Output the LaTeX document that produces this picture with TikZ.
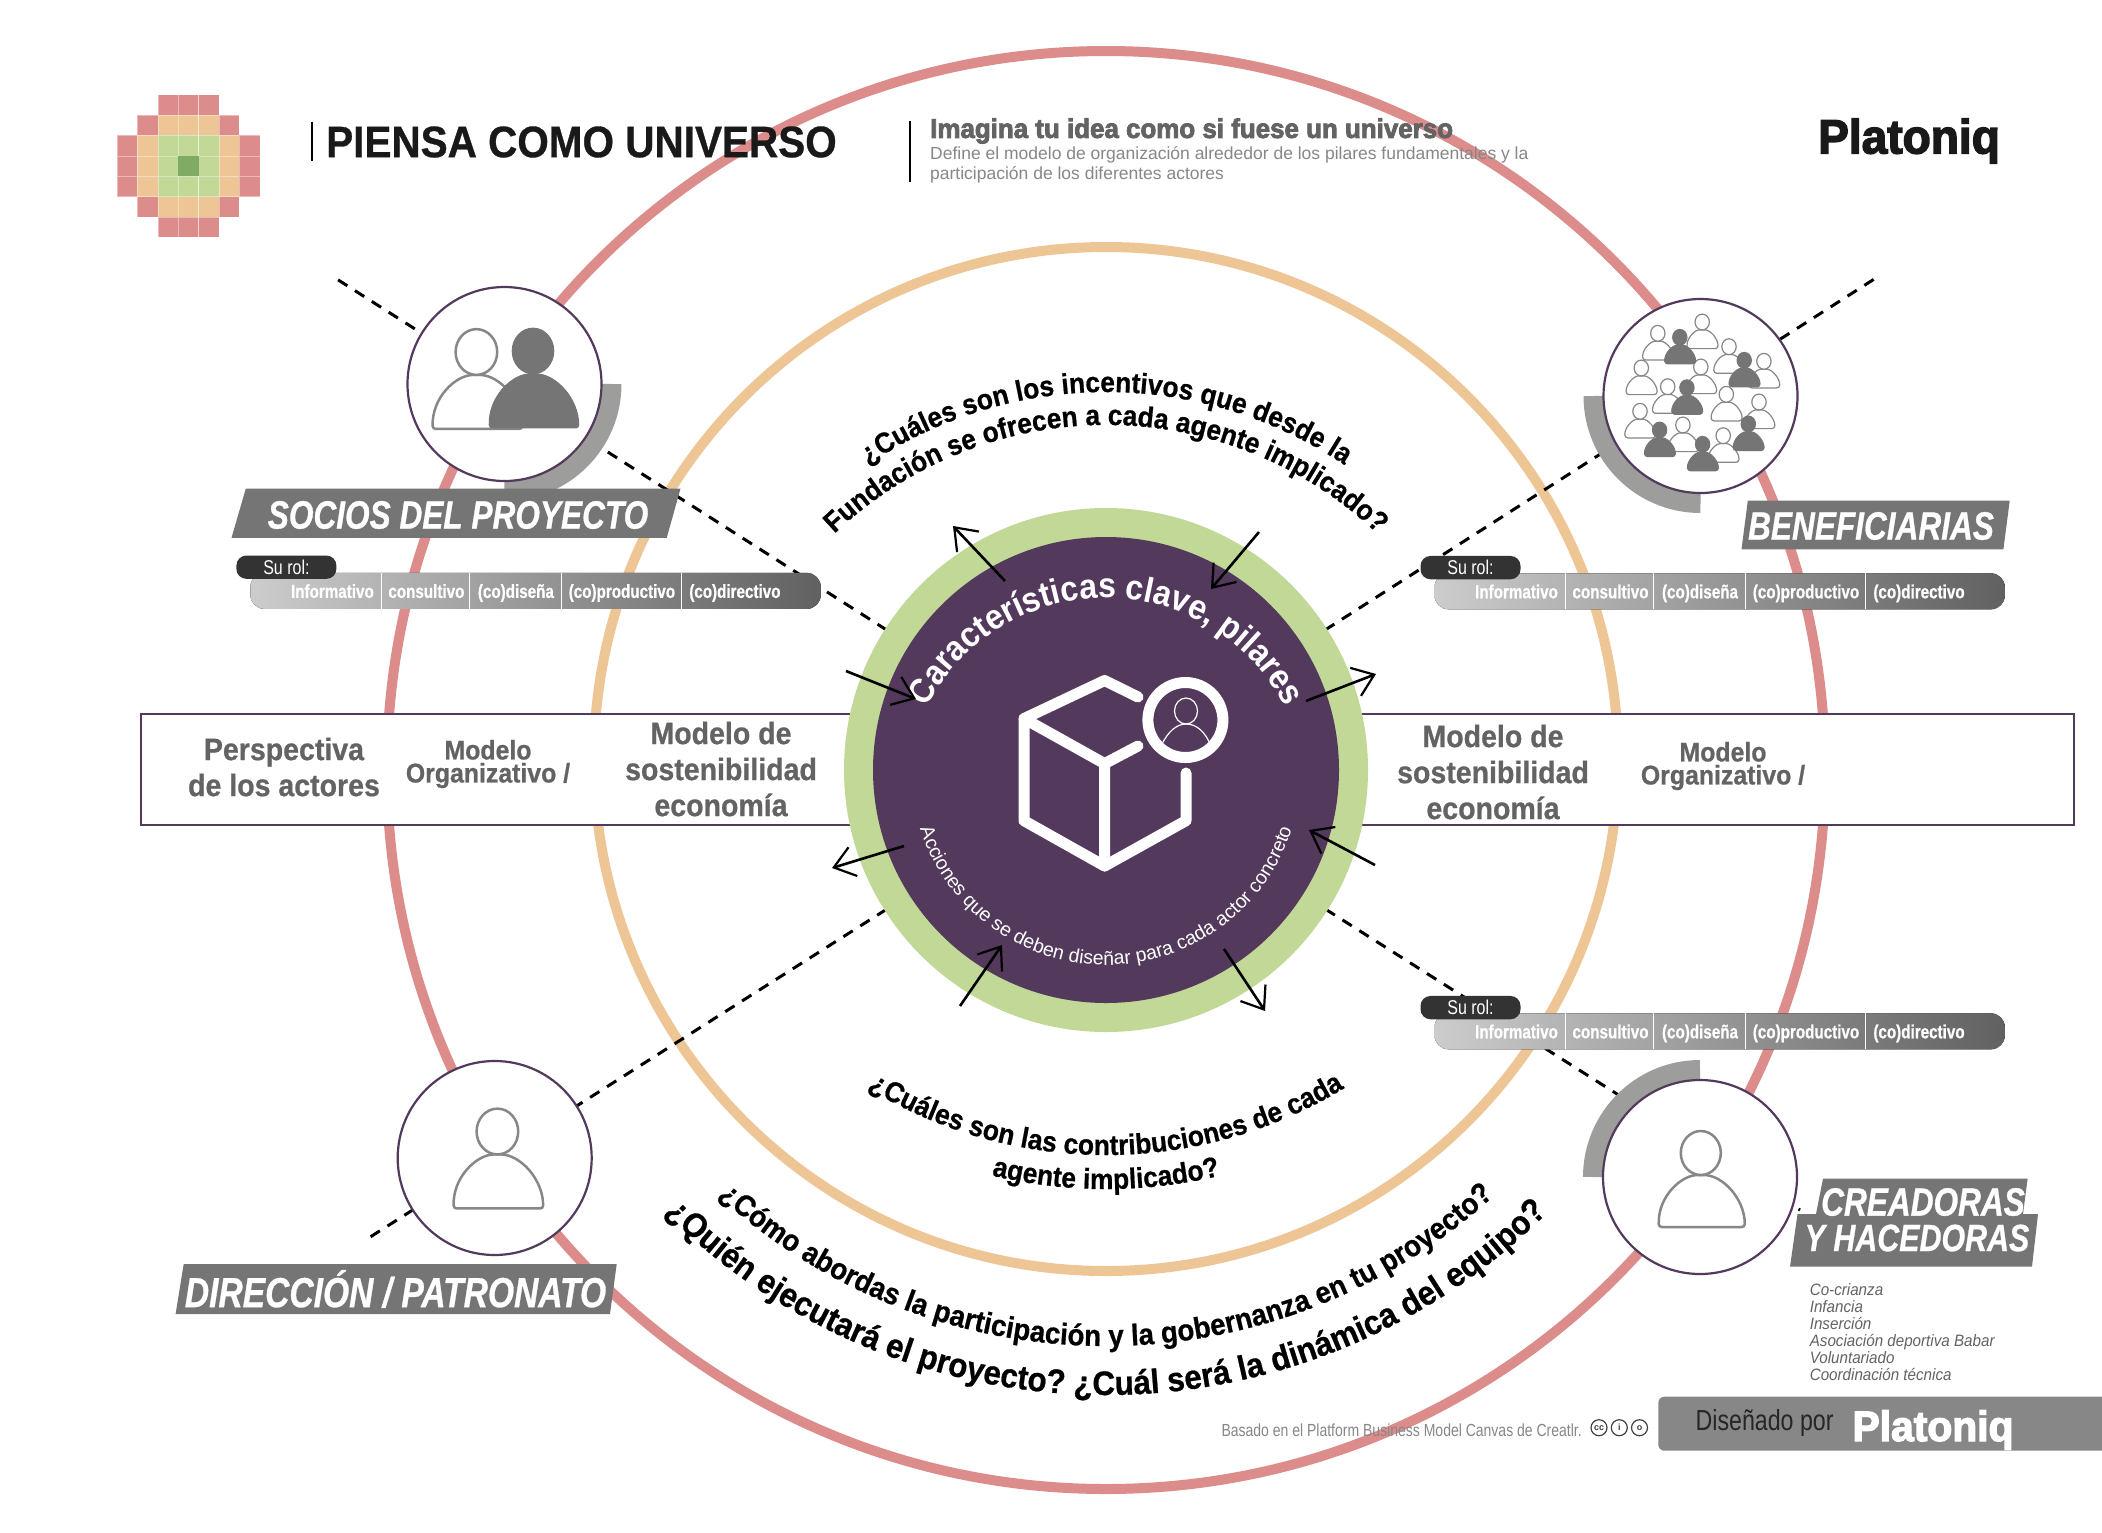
\documentclass[tikz,border=0pt]{standalone}
\usepackage{fontspec}
\setmainfont{Liberation Sans}
\newfontfamily\midfont[FakeStretch=.92]{Liberation Sans}
\newfontfamily\heavyfont[FakeStretch=.92,FakeBold=.7]{Liberation Sans}
\newfontfamily\condfont[FakeStretch=.8]{Liberation Sans}
\newfontfamily\tagfont[FakeStretch=.8,FakeBold=.7]{Liberation Sans}
\newfontfamily\logofont[FakeStretch=.96,FakeBold=3]{Liberation Sans}
\usetikzlibrary{decorations.text,arrows.meta}

\definecolor{ringpink}{HTML}{DD8C8C}
\definecolor{ringorange}{HTML}{EEC595}
\definecolor{ringgreen}{HTML}{C1D896}
\definecolor{coregreen}{HTML}{80AB64}
\definecolor{corepurple}{HTML}{533A5C}
\definecolor{tagfill}{HTML}{757575}
\definecolor{textgrey}{HTML}{646363}
\definecolor{softgrey}{HTML}{878787}
\definecolor{arcgrey}{HTML}{9D9D9C}

\begin{document}
\begin{tikzpicture}[x=1pt,y=-1pt]
        \tikzstyle{ring}=[circle,inner sep=0pt,outer sep=0pt,line width=10pt]
        \tikzstyle{actor}=[circle,draw=corepurple,fill=white,inner sep=0pt,outer sep=0pt,line width=2.2pt,minimum size=194pt]
        \tikzstyle{dashline}=[black,line width=3pt,dash pattern=on 11pt off 9pt]
        \tikzstyle{sweep}=[arcgrey,line width=20pt]
        \tikzstyle{flow}=[black,line width=2.6pt,-{Straight Barb[length=20pt,width=30pt,line width=2.2pt]}]
        \tikzstyle{band}=[textgrey,align=center,font=\heavyfont\bfseries\fontsize{31}{36}\selectfont]
        \tikzstyle{bandsmall}=[textgrey,align=center,font=\heavyfont\bfseries\fontsize{27}{23}\selectfont]
        \tikzstyle{mosaic}=[draw=white,draw opacity=.4,line width=.5pt]
        \tikzstyle{tagbox}=[fill=tagfill]
        \tikzstyle{tagtext}=[white,inner sep=0pt,font=\tagfont\bfseries\itshape\fontsize{39.5}{39.5}\selectfont]
        \tikzstyle{roletext}=[white,inner sep=0pt,anchor=base,font=\tagfont\bfseries\fontsize{19}{19}\selectfont]
        \tikzstyle{cubeline}=[white,line width=11pt,line cap=round,line join=round]
        \tikzstyle{person}=[draw=softgrey,fill=white,line width=2.5pt]
        \tikzstyle{personfull}=[draw=tagfill,fill=tagfill,line width=1pt]
        \tikzstyle{smallperson}=[draw=softgrey,fill=white,line width=1.2pt]
        \tikzset{human/.pic={
            \path[pic actions,rounded corners=3pt] (-42,74) .. controls (-43,44) and (-20,22) .. (0,22)
                .. controls (22,22) and (44,46) .. (44,74) -- cycle;
            \path[pic actions] (0,0) ellipse (20 and 22);
        }}
        \def\askfont{\heavyfont\bfseries\fontsize{28.6}{28.6}\selectfont}
        \def\longask{\heavyfont\bfseries\fontsize{30}{30}\selectfont}
        \def\wideask{\heavyfont\bfseries\fontsize{34}{34}\selectfont}

        \useasboundingbox (0,0) rectangle (2102,1532);
        \fill[white] (0,0) rectangle (2102,1532);

        % rings around the core
        \coordinate (mid) at (1106,770);
        \node[ring,draw=ringpink,minimum size=1438pt] (outerring) at (mid) {};
        \node[ring,draw=ringorange,minimum size=1024pt] (innerring) at (1106,759) {};

        % mosaic
        \foreach \row/\cols/\tone in {0/2/ringpink,0/3/ringpink,0/4/ringpink,
                1/1/ringpink,1/2/ringorange,1/3/ringorange,1/4/ringorange,1/5/ringpink,
                5/1/ringpink,5/2/ringorange,5/3/ringorange,5/4/ringorange,5/5/ringpink,
                6/2/ringpink,6/3/ringpink,6/4/ringpink} {
            \fill[\tone,mosaic] (117+\cols*20.4,94.6+\row*20.4) rectangle +(20.4,20.4);
        };
        \foreach \row in {2,3,4} {
            \foreach \cols/\tone in {0/ringpink,1/ringorange,2/ringgreen,3/ringgreen,4/ringgreen,5/ringorange,6/ringpink} {
                \fill[\tone,mosaic] (117+\cols*20.4,94.6+\row*20.4) rectangle +(20.4,20.4);
            };
        };
        \fill[coregreen] (178.2,155.8) rectangle +(20.4,20.4);

        % free ends of the dashed axes
        \coordinate (sociosend) at (332,276);
        \coordinate (benefend) at (1879,276);
        \coordinate (creaend) at (1800,1210);
        \coordinate (dirend) at (367,1239);
        \foreach \farend in {sociosend,benefend,creaend,dirend} {
            \draw[dashline] (mid) -- (\farend);
        };

        % actors
        \coordinate (sociospos) at (504.5,384);
        \coordinate (benefpos) at (1700.5,396);
        \coordinate (creapos) at (1700,1177);
        \draw[sweep] (sociospos) ++(0:107) arc (0:90:107);
        \draw[sweep] (benefpos) ++(180:107) arc (180:90:107);
        \draw[sweep] (creapos) ++(180:107) arc (180:270:107);
        \node[actor] (socios) at (sociospos) {};
        \node[actor] (benef) at (benefpos) {};
        \node[actor] (crea) at (creapos) {};
        \node[actor] (dir) at (494.7,1158) {};

        \pic[person,scale=1.04] at (476.4,352) {human};
        \pic[personfull,scale=1.04] at (533,351) {human};
        \pic[person] at (1700.8,1153) {human};
        \pic[person,scale=1.04] at (497.4,1131.5) {human};
        \foreach \hx/\hy in {1657.8/333.3,1702.2/322,1729/346.7,1763.9/361.3,1641.3/368,1700.8/367,
                1667.7/386.7,1726.3/394.3,1640/411.3,1759/402,1682.9/425,1723.2/435.7} {
            \pic[smallperson,scale=.36] at (\hx,\hy) {human};
        };
        \foreach \hx/\hy in {1679.8/337.3,1744.2/360.3,1686.9/387.7,1659.6/430,1748.3/424,1702.6/444.3} {
            \pic[personfull,scale=.36] at (\hx,\hy) {human};
        };

        % band and core
        \draw[corepurple,fill=white,line width=2.5pt] (141,714) rectangle (2074,825);
        \node[circle,fill=ringgreen,inner sep=0pt,minimum size=524pt] (hubring) at (mid) {};
        \node[circle,fill=corepurple,inner sep=0pt,minimum size=466pt] (hub) at (mid) {};

        \node[band] (perspectiva) at (284,767) {Perspectiva\\de los actores};
        \node[bandsmall] (orgleft) at (488,764) {Modelo\\Organizativo /};
        \node[band] (sostleft) at (721,769) {Modelo de\\sostenibilidad\\economía};
        \node[band] (sostright) at (1493,772) {Modelo de\\sostenibilidad\\economía};
        \node[bandsmall] (orgright) at (1723,766) {Modelo\\Organizativo /};

        % cube and lens
        \draw[cubeline] (1138,697) -- (1104.6,680.5) -- (1024,718.6) -- (1024,820.7) -- (1104.6,866) -- (1186,820.7) -- (1186,773);
        \draw[cubeline] (1024,718.6) -- (1104.6,763.6) -- (1104.6,866);
        \draw[cubeline] (1104.6,763.6) -- (1138,746);
        \draw[white,line width=11pt] (1185.4,720) circle (37.5);
        \begin{scope}
            \clip (1185.4,720) circle (32);
            \draw[white,line width=1.2pt] (1186,711) ellipse (11.5 and 13);
            \draw[white,line width=1.2pt] (1161,746) .. controls (1168,731) and (1177,724) .. (1186,724)
                .. controls (1196,724) and (1205,731) .. (1211,746);
        \end{scope}

        % text on the core
        \path[decorate,decoration={text along path,text align=center,text color=white,
            text={|\midfont\bfseries\fontsize{35}{35}\selectfont|Características clave, pilares}}]
            [shift={(1106,800)}] (195:202) arc (195:345:202);
        \path[decorate,decoration={text along path,text align=center,text color=white,
            text={|\fontsize{19.5}{19.5}\selectfont|Acciones que se deben diseñar para cada actor concreto}}]
            [shift={(1106,770)}] (200:195) arc (200:-20:195);

        % questions
        \path[decorate,decoration={text along path,text align=center,
            text={|\askfont|¿Cuáles son los incentivos que desde la}}]
            [shift={(1106,818)}] (215:426) arc (215:325:426);
        \path[decorate,decoration={text along path,text align=center,
            text={|\askfont|Fundación se ofrecen a cada agente implicado?}}]
            [shift={(1106,818)}] (205:393) arc (205:335:393);
        \path[decorate,decoration={text along path,text align=center,
            text={|\askfont|¿Cuáles son las contribuciones de cada}}]
            [shift={(1106,697)}] (140:458) arc (140:40:458);
        \path[decorate,decoration={text along path,text align=center,
            text={|\askfont|agente implicado?}}]
            [shift={(1106,697)}] (110:492) arc (110:70:492);
        \path[decorate,decoration={text along path,text align=center,
            text={|\longask|¿Cómo abordas la participación y la gobernanza en tu proyecto?}}]
            [shift={(1106,770)}] (145:576) arc (145:35:576);
        \path[decorate,decoration={text along path,text align=center,
            text={|\wideask|¿Quién ejecutará el proyecto? ¿Cuál será la dinámica del equipo?}}]
            [shift={(1106,770)}] (145:625) arc (145:35:625);

        % flows across the core
        \coordinate (a1) at (1005,581); \coordinate (a2) at (953,526);
        \coordinate (b1) at (1259,532); \coordinate (b2) at (1211,589);
        \coordinate (c1) at (846,671);  \coordinate (c2) at (916,699);
        \coordinate (d1) at (1306,701); \coordinate (d2) at (1376,674);
        \coordinate (e1) at (904,846);  \coordinate (e2) at (832,868);
        \coordinate (f1) at (1375,865); \coordinate (f2) at (1309,830);
        \coordinate (g1) at (960,1006); \coordinate (g2) at (1002,945);
        \coordinate (h1) at (1224,949); \coordinate (h2) at (1265,1011);
        \foreach \st in {a,b,c,d,e,f,g,h} {
            \draw[flow] (\st1) -- (\st2);
        };

        % tags
        \path[tagbox] (245.8,488.6) -- (680.5,488.6) -- (666.7,537.9) -- (231.5,537.9) -- cycle;
        \node[tagtext] (sociostag) at (458,515) {SOCIOS DEL PROYECTO};
        \path[tagbox] (1747.8,500.7) -- (2009.7,500.7) -- (2003.4,549.3) -- (1741.5,549.3) -- cycle;
        \node[tagtext] (beneftag) at (1871,526) {BENEFICIARIAS};
        \path[tagbox] (1823,1178.7) -- (2027.6,1178.7) -- (2023,1214) -- (1816,1214) -- cycle;
        \path[tagbox] (1797.5,1214) -- (2038,1214) -- (2032,1266.7) -- (1790,1266.7) -- cycle;
        \node[tagtext] (creatag) at (1923,1202) {CREADORAS};
        \node[tagtext,font=\tagfont\bfseries\itshape\fontsize{38}{38}\selectfont] (hacetag) at (1917,1238) {Y HACEDORAS};
        \path[tagbox] (183.7,1264) -- (616.7,1264) -- (610,1314) -- (175.6,1314) -- cycle;
        \node[tagtext,font=\tagfont\bfseries\itshape\fontsize{42}{42}\selectfont] (dirtag) at (395.5,1289) {DIRECCIÓN / PATRONATO};

        % role bars
        \foreach \who/\bx/\by in {socios/250.4/572.9,benef/1434.5/573.3,crea/1434.5/1013.3} {
            \begin{scope}[shift={(\bx,\by)}]
                \fill[left color=black!20,right color=black!62,rounded corners=14pt] (0,0) rectangle (570.4,36);
                \foreach \sx in {131,219,311,431} {
                    \draw[white,line width=1.5pt] (\sx,0) -- (\sx,36);
                };
                \foreach \lx/\role in {82/Informativo,176/consultivo,265.5/(co)diseña,371.5/(co)productivo,484.5/(co)directivo} {
                    \node[roletext] at (\lx,25) {\role};
                };
                \node[fill=black!80,rounded corners=10pt,minimum width=100pt,minimum height=23.3pt,inner sep=0pt,
                    text=white,font=\condfont\fontsize{20}{20}\selectfont] (\who role) at (36,-5.7) {Su rol:};
            \end{scope}
        };

        % heading
        \draw[black,line width=2pt] (312,121.5) -- (312,161);
        \node[anchor=west,inner sep=0pt,text=black!90,font=\heavyfont\bfseries\fontsize{44}{44}\selectfont] (heading) at (326,142) {PIENSA COMO UNIVERSO};
        \draw[black,line width=1.6pt] (910,121) -- (910,182);
        \node[anchor=west,inner sep=0pt,textgrey,font=\logofont\bfseries\fontsize{27}{27}\selectfont] (subhead) at (930,131) {Imagina tu idea como si fuese un universo};
        \node[anchor=north west,inner sep=0pt,softgrey,align=left,font=\fontsize{17.5}{20}\selectfont] (subtext) at (930,146.5)
            {Define el modelo de organización alrededor de los pilares fundamentales y la\\participación de los diferentes actores};
        \node[inner sep=0pt,black!90,font=\logofont\bfseries\fontsize{48}{48}\selectfont] (logotop) at (1909,141) {Platoniq};

        % names under the last tag
        \node[anchor=north west,inner sep=0pt,textgrey,align=left,font=\midfont\itshape\fontsize{16.5}{17}\selectfont] (names) at (1809.6,1283)
            {Co-crianza\\Infancia\\Inserción\\Asociación deportiva Babar\\Voluntariado\\Coordinación técnica};

        % footer
        \node[anchor=east,inner sep=0pt,softgrey,font=\condfont\fontsize{17.5}{17.5}\selectfont] (credit) at (1582,1430.5) {Basado en el Platform Business Model Canvas de Creatlr.};
        \foreach \ix/\mark in {1599/cc,1619.3/i,1639.5/o} {
            \node[circle,draw=black!75,line width=1.2pt,minimum size=16pt,inner sep=0pt,black!75,font=\bfseries\fontsize{9}{9}\selectfont] (lic\mark) at (\ix,1427.7) {\mark};
        };
        \fill[softgrey,rounded corners=6pt] (1658.3,1396.7) rectangle (2120,1450.7);
        \node[inner sep=0pt,black!85,font=\condfont\fontsize{29}{29}\selectfont] (designed) at (1764.6,1423) {Diseñado por};
        \node[inner sep=0pt,white,font=\logofont\bfseries\fontsize{42.5}{42.5}\selectfont] (logofoot) at (1933,1430) {Platoniq};
\end{tikzpicture}
\end{document}
